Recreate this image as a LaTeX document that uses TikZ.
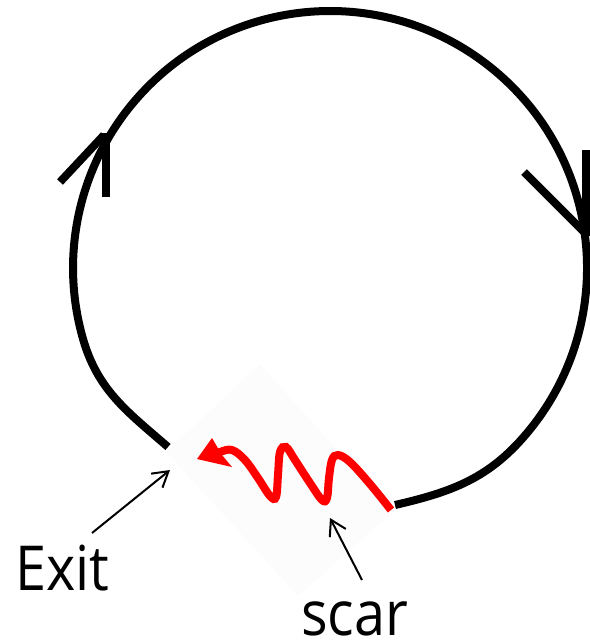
\documentclass[tikz,border=0pt]{standalone}
\usepackage{fontspec}
\setmainfont{Open Sans}[FakeStretch=0.9]
\usetikzlibrary{arrows.meta}
\definecolor{bgdiamond}{RGB}{252,252,252}
\tikzset{
  loopline/.style={line width=8pt},
  chevron/.style={line width=8pt},
  wave/.style={line width=8pt, red, line cap=butt},
  pointer/.style={line width=2pt, -{Straight Barb[length=15pt,width=18pt,line width=2pt]}},
  label/.style={font=\fontsize{62}{62}\selectfont, inner sep=0pt, text depth=0pt, anchor=base west},
}
\begin{document}
\begin{tikzpicture}[x=1pt,y=1pt]
\useasboundingbox (0,0) rectangle (590,-641);
% faint background diamond
\fill[bgdiamond] (260,-364) -- (393,-512) -- (298,-596) -- (166,-452) -- cycle;
% loop
\draw[loopline] (395,-505) to[out=13,in=230] (526.9,-433.2)
  arc[start angle=-40, end angle=196, radius=257]
  to[out=-74,in=139] (168,-447);
% chevrons
\draw[chevron] (60,-182) -- (104,-135);
\draw[chevron] (106,-133) -- (106,-197);
\draw[chevron] (524,-172) -- (585,-233);
\draw[chevron] (586,-150) -- (586,-236);
% red wavy arrow
\draw[wave] plot[smooth, tension=0.6] coordinates {
  (391,-510) (370,-484) (350,-462) (338,-455) (332,-460) (329,-478) (327,-498)
  (322,-500) (310,-483) (295,-460) (286,-447) (280,-452) (278,-475) (276,-497)
  (270,-496) (258,-478) (245,-460) (232,-450) (220,-452) (210,-457)};
\fill[red] (212,-438) -- (197,-459) -- (232,-467) -- (222,-455) -- cycle;
% labels
\node[label] (exit) at (15,-590) {Exit};
\node[label] (scar) at (301,-635) {scar};
\coordinate (exittail) at (92,-533);
\coordinate (exithead) at (170,-470);
\coordinate (scartail) at (362,-580);
\coordinate (scarhead) at (330,-518);
\draw[pointer] (exittail) -- (exithead);
\draw[pointer] (scartail) -- (scarhead);
\end{tikzpicture}
\end{document}
